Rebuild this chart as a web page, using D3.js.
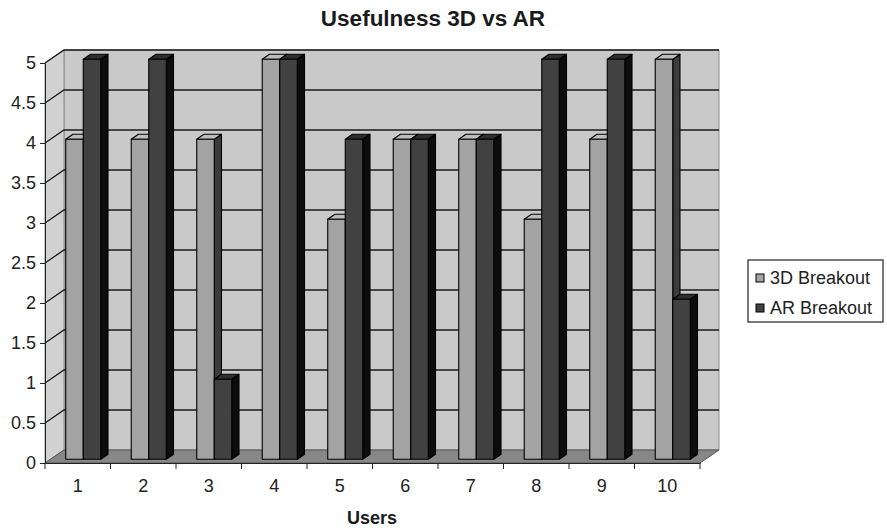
<!DOCTYPE html>
<html>
<head>
<meta charset="utf-8">
<script src="https://cdn.jsdelivr.net/npm/d3@7"></script>
<style>
  html, body { margin: 0; padding: 0; background: #fff; }
  svg { display: block; font-family: "Liberation Sans", Arial, sans-serif; }
</style>
</head>
<body>
<svg id="chart" width="887" height="532"></svg>
<script>
// Usefulness ratings per user
const users = ["1", "2", "3", "4", "5", "6", "7", "8", "9", "10"];
const seriesNames = ["3D Breakout", "AR Breakout"];
const breakout3D = [4, 4, 4, 5, 3, 4, 4, 3, 4, 5];
const breakoutAR = [5, 5, 1, 5, 4, 4, 4, 5, 5, 2];
const yTicks = [0, 0.5, 1, 1.5, 2, 2.5, 3, 3.5, 4, 4.5, 5];

const seriesValues = [breakout3D, breakoutAR];

const svg = d3.select("#chart");

// Front plane of the plot and the oblique depth offset of the 3D box
const plot = { left: 45, right: 700, top: 63, bottom: 463 };
const DX = 19, DY = -13;

const x = d3.scaleBand().domain(users).range([plot.left, plot.right]).padding(0);
const y = d3.scaleLinear().domain([0, 5]).range([plot.bottom, plot.top]);
const inner = d3.scaleBand().domain(seriesNames).range([0, x.bandwidth() * 0.535]).padding(0);

const P = (px, py, f) => [px + f * DX, py + f * DY];
const poly = pts => "M" + pts.map(p => p.join(",")).join("L") + "Z";

// Walls
const x0 = plot.left, x1 = plot.right;
const yTop = y(5), yBot = y(0);
svg.append("path")
  .attr("d", poly([P(x0, yTop, 1), P(x1, yTop, 1), P(x1, yBot, 1), P(x0, yBot, 1)]))
  .attr("fill", "#c9c9c9").attr("stroke", "#8a8a8a").attr("stroke-width", 1);
svg.append("path")
  .attr("d", poly([P(x0, yTop, 0), P(x0, yTop, 1), P(x0, yBot, 1), P(x0, yBot, 0)]))
  .attr("fill", "#d2d2d2").attr("stroke", "#8a8a8a").attr("stroke-width", 1);

// Gridlines across the side wall and back wall
const grid = svg.append("g").attr("stroke", "#1a1a1a").attr("stroke-width", 1.3).attr("fill", "none");
yTicks.filter(v => v > 0).forEach(v => {
  const a = P(x0, y(v), 0), b = P(x0, y(v), 1), c = P(x1, y(v), 1);
  grid.append("path").attr("d", "M" + [a, b, c].map(p => p.join(",")).join("L"));
});

// Floor
svg.append("path")
  .attr("d", poly([P(x0, yBot, 0), P(x1, yBot, 0), P(x1, yBot, 1), P(x0, yBot, 1)]))
  .attr("fill", "#878787").attr("stroke", "#555").attr("stroke-width", 1);

// Bars
const fFront = 0.29, fBack = 0.67;
const barStyles = [
  { front: "#a3a3a3", top: "#bdbdbd", side: "#3c3c3c" },
  { front: "#414141", top: "#2e2e2e", side: "#0d0d0d" }
];
const bars = svg.append("g").attr("stroke", "#000").attr("stroke-width", 1.1).attr("stroke-linejoin", "round");
users.forEach((u, i) => {
  seriesNames.forEach((s, k) => {
    const v = seriesValues[k][i];
    const bx0 = x(u) + (x.bandwidth() - inner.range()[1]) / 2 + inner(s);
    const bx1 = bx0 + inner.bandwidth();
    const yt = y(v), yb = y(0);
    const st = barStyles[k];
    // right side
    bars.append("path").attr("fill", st.side)
      .attr("d", poly([P(bx1, yt, fFront), P(bx1, yt, fBack), P(bx1, yb, fBack), P(bx1, yb, fFront)]));
    // top
    bars.append("path").attr("fill", st.top)
      .attr("d", poly([P(bx0, yt, fFront), P(bx1, yt, fFront), P(bx1, yt, fBack), P(bx0, yt, fBack)]));
    // front
    bars.append("path").attr("fill", st.front)
      .attr("d", poly([P(bx0, yt, fFront), P(bx1, yt, fFront), P(bx1, yb, fFront), P(bx0, yb, fFront)]));
  });
});

// Value axis
const yAxis = svg.append("g")
  .attr("transform", `translate(${plot.left},0)`)
  .call(d3.axisLeft(y).tickValues(yTicks).tickFormat(d3.format("~g")).tickSize(5).tickSizeOuter(0).tickPadding(4));
yAxis.select(".domain").attr("stroke", "#222");
yAxis.selectAll(".tick line").attr("stroke", "#222");
yAxis.selectAll("text").attr("font-size", 18).attr("fill", "#222")
  .attr("font-family", "Liberation Sans, Arial, sans-serif");

// Category axis: labels at centres, tick marks at boundaries
const xAxis = svg.append("g")
  .attr("transform", `translate(0,${plot.bottom})`)
  .call(d3.axisBottom(x).tickSize(0).tickPadding(16));
xAxis.select(".domain").attr("stroke", "#222");
xAxis.selectAll("text").attr("font-size", 18).attr("fill", "#222")
  .attr("font-family", "Liberation Sans, Arial, sans-serif");
const bounds = users.map(u => x(u)).concat([x.range()[1]]);
svg.append("g").selectAll("line").data(bounds).join("line")
  .attr("x1", d => d).attr("x2", d => d)
  .attr("y1", plot.bottom).attr("y2", plot.bottom + 6)
  .attr("stroke", "#222");

// Title and axis title
svg.append("text").attr("x", 433).attr("y", 26).attr("text-anchor", "middle")
  .attr("font-size", 22.5).attr("font-weight", "bold").attr("fill", "#1a1a1a")
  .text("Usefulness 3D vs AR");
svg.append("text").attr("x", 372).attr("y", 524).attr("text-anchor", "middle")
  .attr("font-size", 18).attr("font-weight", "bold").attr("fill", "#1a1a1a")
  .text("Users");

// Legend
const legend = svg.append("g");
legend.append("rect").attr("x", 748).attr("y", 260).attr("width", 135).attr("height", 62)
  .attr("fill", "#fff").attr("stroke", "#222").attr("stroke-width", 1.2);
seriesNames.forEach((s, k) => {
  const cy = 278 + k * 30;
  legend.append("rect").attr("x", 756).attr("y", cy - 4).attr("width", 8).attr("height", 8)
    .attr("fill", barStyles[k].front).attr("stroke", "#000");
  legend.append("text").attr("x", 770).attr("y", cy).attr("dy", "0.35em")
    .attr("font-size", 18).attr("fill", "#222").text(s);
});
</script>
</body>
</html>
